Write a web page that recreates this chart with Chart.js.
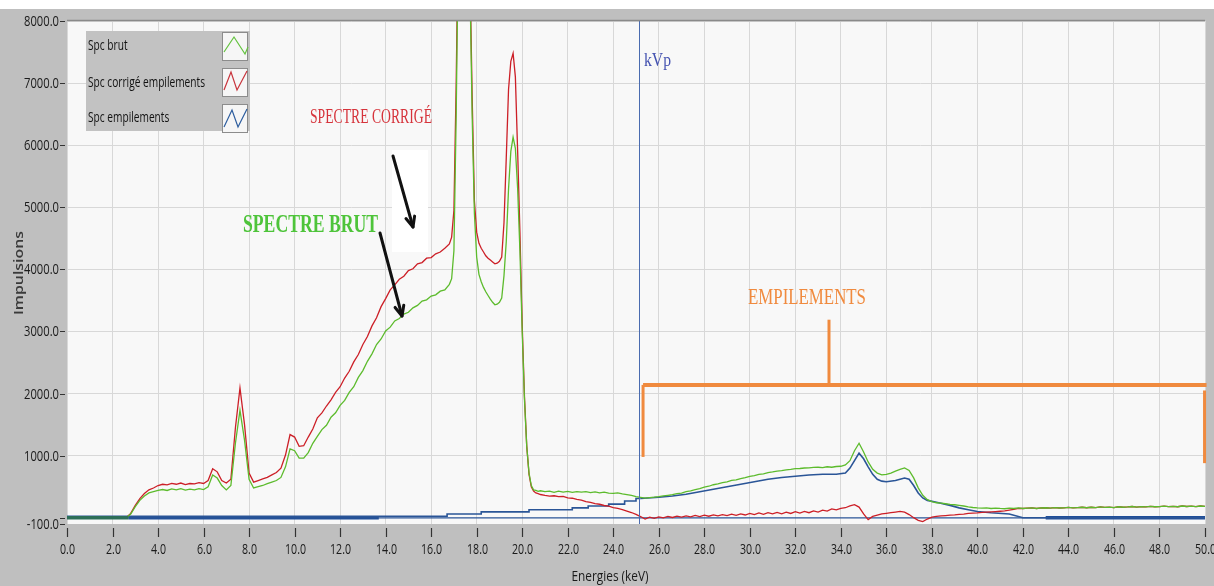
<!DOCTYPE html>
<html><head><meta charset="utf-8">
<script src="https://cdn.jsdelivr.net/npm/chart.js@4.4.1/dist/chart.umd.min.js"></script>
<style>html,body{margin:0;padding:0;background:#bfbfbf;overflow:hidden}canvas{display:block}</style>
</head><body>
<canvas id="c" width="1214" height="586"></canvas>
<script>
// ---------- DATA ----------
const energies = [
0, 2.6, 2.8, 3.0, 3.2, 3.4, 3.6, 3.8, 4.0, 4.2,
4.4, 4.6, 4.8, 5.0, 5.2, 5.4, 5.6, 5.8, 6.0, 6.2,
6.4, 6.6, 6.8, 7.0, 7.2, 7.4, 7.6, 7.8, 8.0, 8.2,
8.4, 8.6, 8.8, 9.0, 9.2, 9.4, 9.6, 9.8, 10.0, 10.2,
10.4, 10.6, 10.8, 11.0, 11.2, 11.4, 11.6, 11.8, 12.0, 12.2,
12.4, 12.6, 12.8, 13.0, 13.2, 13.4, 13.6, 13.8, 14.0, 14.2,
14.4, 14.6, 14.8, 15.0, 15.2, 15.4, 15.6, 15.8, 16.0, 16.2,
16.4, 16.6, 16.8, 16.9, 17.0, 17.1, 17.2, 17.3, 17.4, 17.5,
17.6, 17.7, 17.8, 17.9, 18.0, 18.1, 18.2, 18.3, 18.4, 18.5,
18.6, 18.7, 18.8, 18.9, 19.0, 19.1, 19.2, 19.3, 19.4, 19.5,
19.6, 19.7, 19.8, 19.9, 20.0, 20.1, 20.2, 20.3, 20.4, 20.5,
20.6, 20.7, 20.8, 21.0, 21.2, 21.4, 21.6, 21.8, 22.0, 22.2,
22.4, 22.6, 22.8, 23.0, 23.2, 23.4, 23.6, 23.8, 24.0, 24.2,
24.4, 24.6, 24.8, 25.0, 25.2, 25.4, 25.6, 25.8, 26.0, 26.2,
26.4, 26.6, 26.8, 27.0, 27.2, 27.4, 27.6, 27.8, 28.0, 28.2,
28.4, 28.6, 28.8, 29.0, 29.2, 29.4, 29.6, 29.8, 30.0, 30.2,
30.4, 30.6, 30.8, 31.0, 31.2, 31.4, 31.6, 31.8, 32.0, 32.2,
32.4, 32.6, 32.8, 33.0, 33.2, 33.4, 33.6, 33.8, 34.0, 34.2,
34.4, 34.6, 34.8, 35.0, 35.2, 35.4, 35.6, 35.8, 36.0, 36.2,
36.4, 36.6, 36.8, 37.0, 37.2, 37.4, 37.6, 37.8, 38.0, 38.2,
38.4, 38.6, 38.8, 39.0, 39.2, 39.4, 39.6, 39.8, 40.0, 40.2,
40.4, 40.6, 40.8, 41.0, 41.2, 41.4, 41.6, 41.8, 42.0, 42.2,
42.4, 42.6, 42.8, 43.0, 43.2, 43.4, 43.6, 43.8, 44.0, 44.2,
44.4, 44.6, 44.8, 45.0, 45.2, 45.4, 45.6, 45.8, 46.0, 46.2,
46.4, 46.6, 46.8, 47.0, 47.2, 47.4, 47.6, 47.8, 48.0, 48.2,
48.4, 48.6, 48.8, 49.0, 49.2, 49.4, 49.6, 49.8, 50.0
];

const spcBrut = [
0, 0, 60, 180, 280, 350, 400, 420, 440, 455,
440, 465, 450, 470, 445, 462, 450, 470, 455, 500,
690, 640, 520, 450, 520, 1200, 1730, 1250, 620, 480,
500, 520, 550, 575, 600, 650, 820, 1110, 1080, 960,
960, 1050, 1200, 1310, 1420, 1490, 1620, 1690, 1810, 1890,
2020, 2110, 2260, 2370, 2520, 2640, 2790, 2880, 3010, 3070,
3170, 3210, 3280, 3310, 3380, 3420, 3490, 3510, 3570, 3590,
3650, 3670, 3760, 3850, 4300, 6500, 9500, 13000, 14000, 13000,
11000, 8700, 6500, 4900, 4200, 3920, 3800, 3710, 3640, 3580,
3520, 3470, 3430, 3440, 3470, 3540, 3900, 4450, 5300, 5900,
6130, 5950, 5300, 4300, 3000, 1900, 1150, 720, 520, 450,
440, 425, 435, 420, 430, 410, 428, 415, 425, 410,
422, 412, 420, 405, 418, 400, 412, 398, 392, 402,
385, 372, 360, 342, 330, 318, 326, 332, 340, 352,
362, 372, 388, 398, 422, 432, 452, 468, 492, 508,
532, 545, 568, 578, 602, 612, 632, 648, 668, 678,
698, 708, 728, 738, 752, 758, 772, 778, 792, 794,
802, 804, 812, 814, 808, 822, 814, 826, 830, 852,
920, 1080, 1200, 1060, 900, 780, 720, 690, 700, 720,
752, 778, 802, 762, 642, 482, 362, 292, 262, 242,
236, 226, 216, 210, 200, 190, 176, 166, 160, 156,
160, 150, 156, 150, 146, 156, 150, 160, 150, 156,
160, 150, 158, 162, 155, 165, 158, 160, 168, 160,
165, 170, 162, 170, 165, 175, 168, 172, 165, 178,
170, 175, 182, 172, 180, 175, 185, 178, 180, 188,
180, 185, 178, 190, 182, 188, 180, 190, 185
];

const spcCorrige = [
0, 0, 70, 200, 310, 390, 450, 480, 520, 540,
530, 555, 540, 560, 535, 552, 545, 565, 552, 600,
790, 740, 600, 560, 620, 1450, 2090, 1500, 720, 575,
600, 625, 650, 690, 730, 800, 1010, 1340, 1300, 1150,
1160, 1300, 1430, 1610, 1690, 1800, 1900, 2020, 2110, 2250,
2360, 2510, 2630, 2790, 2920, 3090, 3220, 3400, 3530, 3670,
3750, 3840, 3890, 3980, 4010, 4090, 4110, 4180, 4190, 4250,
4280, 4340, 4410, 4520, 4950, 7000, 9800, 13000, 14000, 13000,
11200, 8900, 6800, 5100, 4600, 4420, 4340, 4280, 4220, 4180,
4150, 4120, 4090, 4100, 4130, 4200, 4750, 5800, 6900, 7350,
7480, 7100, 5900, 4600, 3100, 1950, 1150, 700, 500, 430,
400, 390, 375, 360, 350, 355, 340, 345, 320, 315,
295, 285, 260, 248, 228, 218, 198, 188, 165, 152,
130, 108, 85, 55, 20, -20, 10, -10, 15, 0,
22, 5, 28, 12, 32, 15, 38, 20, 42, 25,
48, 30, 52, 35, 58, 40, 62, 45, 72, 50,
78, 55, 82, 62, 88, 65, 92, 70, 98, 75,
102, 82, 112, 92, 122, 108, 142, 128, 152, 162,
192, 212, 172, 62, -30, 22, 42, 62, 72, 82,
92, 102, 92, 52, 2, -40, -60, -20, 12, 22,
30, 36, 42, 46, 56, 60, 70, 76, 80, 86,
90, 95, 100, 105, 110, 125, 135, 150, 150, 156,
160, 150, 158, 162, 155, 165, 158, 160, 168, 160,
165, 170, 162, 170, 165, 175, 168, 172, 165, 178,
170, 175, 182, 172, 180, 175, 185, 178, 180, 188,
180, 185, 178, 190, 182, 188, 180, 190, 185
];

// Spc empilements (pile-up spectrum)
const empEnergies = [0, 16.7, 18.2, 20.3, 22.2, 22.9, 23.8, 24.5, 25.0, 25.2,
  26.0, 26.6, 27.2, 27.8, 28.4, 29.0, 29.6, 30.2, 30.8, 31.4,
  32.0, 32.6, 33.2, 33.8, 34.2, 34.4, 34.6, 34.8, 35.0, 35.2,
  35.4, 35.6, 35.8, 36.0, 36.4, 36.8, 37.0, 37.2, 37.4, 37.6,
  37.8, 38.2, 38.8, 39.2, 39.6, 40.0, 40.6, 41.4, 42.0, 50.0];
const empValues = [0, 25, 60, 95, 130, 160, 190, 220, 270, 310,
  330, 350, 380, 420, 460, 500, 540, 580, 620, 650,
  670, 690, 700, 700, 720, 800, 920, 1040, 950, 820,
  700, 620, 590, 580, 600, 640, 620, 520, 400, 320,
  280, 250, 200, 160, 130, 100, 80, 60, 0, 0];

// zero baseline (thin full-width, thick segments)
const baselineEnergies = [0, 50];
const baselineValues = [0, 0];
const thickEnergies = [2.7, 13.7, 13.8, 43.0, 50.0];
const thickValues = [0, 0, null, 0, 0];
const startEnergies = [0, 2.7];
const startValues = [0, 0];

const xTickValues = [0,2,4,6,8,10,12,14,16,18,20,22,24,26,28,30,32,34,36,38,40,42,44,46,48,50];
const yTickValues = [-100, 0, 1000, 2000, 3000, 4000, 5000, 6000, 7000, 8000];
const legendLabels = ['Spc brut', 'Spc corrigé empilements', 'Spc empilements'];
const kVp = 25.13;

// ---------- helpers ----------
const pts = (xs, ys) => xs.map((x, i) => ({x: x, y: ys[i]}));
const SANS = '"Open Sans", "Liberation Sans", sans-serif';
const SERIF = '"Liberation Serif", "DejaVu Serif", serif';

function measure(ctx, s, font) { ctx.save(); ctx.font = font; const w = ctx.measureText(s).width; ctx.restore(); return w; }
function txt(ctx, s, x, y, font, color, align, sx, baseline) {
  ctx.save(); ctx.font = font; ctx.fillStyle = color; ctx.textAlign = align || 'left';
  ctx.textBaseline = baseline || 'middle';
  ctx.translate(x, y); ctx.scale(sx || 1, 1); ctx.fillText(s, 0, 0); ctx.restore();
}
function fitTxt(ctx, s, x, y, font, color, width, align, baseline) {
  const sx = width / measure(ctx, s, font);
  txt(ctx, s, x, y, font, color, align, sx, baseline);
}
function line(ctx, x1, y1, x2, y2, color, w) {
  ctx.save(); ctx.strokeStyle = color; ctx.lineWidth = w; ctx.beginPath();
  ctx.moveTo(x1, y1); ctx.lineTo(x2, y2); ctx.stroke(); ctx.restore();
}
function arrow(ctx, x1, y1, x2, y2) {
  ctx.save(); ctx.strokeStyle = '#111'; ctx.fillStyle = '#111'; ctx.lineWidth = 3; ctx.lineCap = 'round';
  ctx.beginPath(); ctx.moveTo(x1, y1); ctx.lineTo(x2, y2); ctx.stroke();
  const a = Math.atan2(y2 - y1, x2 - x1), L = 11, sp = 0.42;
  ctx.beginPath();
  ctx.moveTo(x2, y2); ctx.lineTo(x2 - L * Math.cos(a - sp), y2 - L * Math.sin(a - sp));
  ctx.moveTo(x2, y2); ctx.lineTo(x2 - L * Math.cos(a + sp), y2 - L * Math.sin(a + sp));
  ctx.stroke(); ctx.restore();
}

const decor = {
  id: 'decor',
  beforeDraw(chart) {
    const ctx = chart.ctx, a = chart.chartArea;
    ctx.save();
    ctx.fillStyle = '#bfbfbf'; ctx.fillRect(0, 0, chart.width, chart.height);
    ctx.fillStyle = '#ffffff'; ctx.fillRect(0, 0, chart.width, 9);
    ctx.fillStyle = '#f8f8f8'; ctx.fillRect(a.left, a.top, a.right - a.left, a.bottom - a.top);
    ctx.restore();
  },
  beforeDatasetsDraw(chart) {
    const ctx = chart.ctx;
    ctx.save(); ctx.fillStyle = '#ffffff';
    ctx.fillRect(392, 150, 36, 102);
    ctx.restore();
  },
  afterDatasetsDraw(chart) {
    const ctx = chart.ctx, a = chart.chartArea, xs = chart.scales.x;
    const kx = Math.round(xs.getPixelForValue(kVp)) + 0.5;
    line(ctx, kx, a.top, kx, a.bottom, '#4a6cb0', 1);
  },
  afterDraw(chart) {
    const ctx = chart.ctx, a = chart.chartArea, xs = chart.scales.x, ys = chart.scales.y;
    line(ctx, a.left, a.top - 0.5, a.right, a.top - 0.5, '#8a8a8a', 1.5);
    // y ticks + labels
    const tf = '15px ' + SANS;
    const sxY = 35 / measure(ctx, '8000.0', tf);
    yTickValues.forEach(v => {
      const y = Math.round(ys.getPixelForValue(v)) + 0.5;
      line(ctx, 60, y, 65, y, '#333', 1);
      if (v !== 0) txt(ctx, v.toFixed(1), 59, y, tf, '#1a1a1a', 'right', sxY);
    });
    // x ticks + labels
    const sxX = 21 / measure(ctx, '24.0', tf);
    xTickValues.forEach(v => {
      const x = Math.round(xs.getPixelForValue(v)) + 0.5;
      line(ctx, x, 528, x, 537, '#333', 1.2);
      txt(ctx, v.toFixed(1), x, 550, tf, '#1a1a1a', 'center', sxX);
    });
    // axis titles
    fitTxt(ctx, 'Energies (keV)', 610, 577, '14px ' + SANS, '#1a1a1a', 77, 'center');
    ctx.save(); ctx.translate(19, 273); ctx.rotate(-Math.PI / 2);
    fitTxt(ctx, 'Impulsions', 0, 0, '600 13px ' + SANS, '#3a3a3a', 84, 'center');
    ctx.restore();

    // legend
    ctx.save(); ctx.fillStyle = '#c2c2c2'; ctx.fillRect(86, 31, 164, 100); ctx.restore();
    const lf = '14px ' + SANS;
    const sxL = 117 / measure(ctx, legendLabels[1], lf);
    const rows = [
      {y: 46, box: 32, color: '#63c23e', pts: [[2,20],[12,5],[23,22],[26,15]]},
      {y: 83, box: 68, color: '#c8343c', pts: [[2,22],[9,4],[15,22],[25,3]]},
      {y: 118, box: 104, color: '#2d5d9e', pts: [[2,23],[10,6],[16,23],[25,5]]}
    ];
    rows.forEach((r, i) => {
      txt(ctx, legendLabels[i], 88, r.y, lf, '#111', 'left', sxL);
      ctx.save();
      ctx.fillStyle = '#f6f6f6'; ctx.fillRect(222, r.box, 26, 29);
      ctx.strokeStyle = '#8c8c8c'; ctx.lineWidth = 1; ctx.strokeRect(222.5, r.box + 0.5, 25, 28);
      ctx.strokeStyle = r.color; ctx.lineWidth = 1.2; ctx.beginPath();
      r.pts.forEach((p, j) => { const X = 222 + p[0], Y = r.box + p[1]; j ? ctx.lineTo(X, Y) : ctx.moveTo(X, Y); });
      ctx.stroke(); ctx.restore();
    });

    // annotations
    fitTxt(ctx, 'kVp', 644, 66, '18px ' + SERIF, '#4452b0', 27, 'left', 'alphabetic');
    fitTxt(ctx, 'SPECTRE CORRIGÉ', 310, 123, '20px ' + SERIF, '#d6333b', 122, 'left', 'alphabetic');
    fitTxt(ctx, 'SPECTRE BRUT', 243, 232, 'bold 25px ' + SERIF, '#4ec43a', 135, 'left', 'alphabetic');
    fitTxt(ctx, 'EMPILEMENTS', 748, 304, '24px ' + SERIF, '#f08a3e', 118, 'left', 'alphabetic');
    arrow(ctx, 393, 156, 413, 227);
    arrow(ctx, 380, 233, 402, 316);

    // orange bracket (in data units)
    const orange = '#f08a3e';
    const bx1 = xs.getPixelForValue(25.31), bx2 = xs.getPixelForValue(49.98);
    const by = ys.getPixelForValue(2140);
    const sx = xs.getPixelForValue(33.48);
    line(ctx, bx1, by, bx2 + 2, by, orange, 4);
    line(ctx, sx, ys.getPixelForValue(3190), sx, by, orange, 3);
    line(ctx, bx1, by, bx1, ys.getPixelForValue(980), orange, 3);
    line(ctx, bx2, ys.getPixelForValue(2050), bx2, ys.getPixelForValue(880), orange, 3);
  }
};

const common = {pointRadius: 0, pointHoverRadius: 0, tension: 0, fill: false};

new Chart(document.getElementById('c'), {
  type: 'line',
  data: {
    datasets: [
      Object.assign({label: legendLabels[0], data: pts(energies, spcBrut), borderColor: '#5cbb2c', borderWidth: 1.3, order: 1}, common),
      Object.assign({label: legendLabels[1], data: pts(energies, spcCorrige), borderColor: '#cc1f27', borderWidth: 1.3, order: 2}, common),
      Object.assign({label: legendLabels[2], data: pts(empEnergies.slice(0, 10), empValues.slice(0, 10)), borderColor: '#2a5597', borderWidth: 1.6, stepped: 'after', order: 3}, common),
      Object.assign({label: legendLabels[2] + ' (2)', data: pts(empEnergies.slice(9), empValues.slice(9)), borderColor: '#2a5597', borderWidth: 1.6, order: 3}, common),
      Object.assign({label: 'zero', data: pts(baselineEnergies, baselineValues), borderColor: '#2a5597', borderWidth: 1.3, order: 4}, common),
      Object.assign({label: 'zero thick', data: pts(thickEnergies, thickValues), borderColor: '#1f4e99', borderWidth: 3.5, spanGaps: false, order: 4}, common),
      Object.assign({label: 'start', data: pts(startEnergies, startValues), borderColor: '#2c6e58', borderWidth: 3.5, order: 0}, common)
    ]
  },
  options: {
    responsive: false, animation: false, devicePixelRatio: 1,
    parsing: false, normalized: true,
    layout: {padding: {top: 21, right: 9, left: 0, bottom: 0}},
    plugins: {legend: {display: false}, tooltip: {enabled: false}},
    events: [],
    scales: {
      x: {
        type: 'linear', min: 0, max: 50,
        afterBuildTicks: ax => { ax.ticks = xTickValues.map(v => ({value: v})); },
        ticks: {display: false},
        grid: {color: '#d8d8d8', lineWidth: 1, drawTicks: false},
        border: {display: false},
        afterFit: s => { s.height = 62; s.paddingLeft = 0; s.paddingRight = 0; }
      },
      y: {
        type: 'linear', min: -100, max: 8000,
        afterBuildTicks: ax => { ax.ticks = yTickValues.map(v => ({value: v})); },
        ticks: {display: false},
        grid: {color: c => (c.tick && (c.tick.value === 0 || c.tick.value === -100)) ? 'rgba(0,0,0,0)' : '#d8d8d8', lineWidth: 1, drawTicks: false},
        border: {display: false},
        afterFit: s => { s.width = 67; s.paddingTop = 0; s.paddingBottom = 0; }
      }
    }
  },
  plugins: [decor]
});
</script>
</body></html>
